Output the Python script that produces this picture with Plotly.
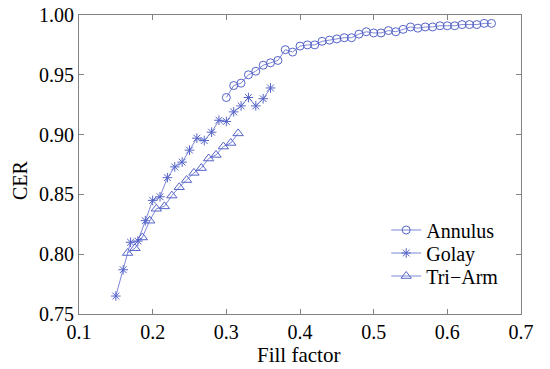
import plotly.graph_objects as go

annulus_x = [0.30, 0.31, 0.32, 0.33, 0.34, 0.35, 0.36, 0.37, 0.38, 0.39, 0.40, 0.41, 0.42,
             0.43, 0.44, 0.45, 0.46, 0.47, 0.48, 0.49, 0.50, 0.51, 0.52, 0.53, 0.54, 0.55,
             0.56, 0.57, 0.58, 0.59, 0.60, 0.61, 0.62, 0.63, 0.64, 0.65, 0.66]
annulus_y = [0.931, 0.941, 0.943, 0.950, 0.953, 0.958, 0.960, 0.962, 0.971, 0.969, 0.974, 0.975,
             0.975, 0.978, 0.979, 0.980, 0.981, 0.981, 0.984, 0.986, 0.985, 0.985, 0.987, 0.986,
             0.988, 0.990, 0.989, 0.990, 0.990, 0.991, 0.991, 0.991, 0.992, 0.992, 0.992, 0.993, 0.993]

golay_x = [0.15, 0.16, 0.17, 0.18, 0.19, 0.20, 0.21, 0.22, 0.23, 0.24, 0.25,
           0.26, 0.27, 0.28, 0.29, 0.30, 0.31, 0.32, 0.33, 0.34, 0.35, 0.36]
golay_y = [0.765, 0.787, 0.810, 0.811, 0.828, 0.845, 0.848, 0.864, 0.873, 0.877, 0.887,
           0.897, 0.895, 0.902, 0.912, 0.911, 0.919, 0.924, 0.931, 0.924, 0.930, 0.939]

triarm_x = [0.166, 0.176, 0.186, 0.196, 0.205, 0.216, 0.226, 0.236, 0.246, 0.256,
            0.266, 0.276, 0.286, 0.296, 0.306, 0.316]
triarm_y = [0.801, 0.805, 0.814, 0.828, 0.838, 0.840, 0.849, 0.856, 0.862, 0.868,
            0.872, 0.880, 0.883, 0.890, 0.893, 0.901]

x_ticks = [0.1, 0.2, 0.3, 0.4, 0.5, 0.6, 0.7]
y_ticks = [0.75, 0.80, 0.85, 0.90, 0.95, 1.00]

LINE = "rgb(125,135,215)"
MARK = "rgb(85,100,200)"
FONT = "Liberation Serif"

fig = go.Figure()
fig.add_trace(go.Scatter(x=annulus_x, y=annulus_y, name="Annulus", mode="lines+markers",
                         line=dict(color=LINE, width=1),
                         marker=dict(symbol="circle-open", size=8, color=MARK, line=dict(width=1, color=MARK)),
                         legend="legend"))
fig.add_trace(go.Scatter(x=golay_x, y=golay_y, name="Golay", mode="lines+markers",
                         line=dict(color=LINE, width=1),
                         marker=dict(symbol="asterisk-open", size=8, color=MARK, line=dict(width=1, color=MARK)),
                         legend="legend2"))
fig.add_trace(go.Scatter(x=triarm_x, y=triarm_y, name="Tri\u2212Arm", mode="lines+markers",
                         line=dict(color=LINE, width=1),
                         marker=dict(symbol="triangle-up-open", size=9, color=MARK, line=dict(width=1, color=MARK)),
                         legend="legend3"))

axis_common = dict(showline=True, linecolor="rgb(130,130,130)", linewidth=1, mirror="ticks",
                   ticks="inside", ticklen=5, tickcolor="rgb(130,130,130)", showgrid=False,
                   zeroline=False, automargin=False,
                   tickfont=dict(family=FONT, size=20, color="black"))

fig.update_xaxes(range=[0.1, 0.7], tickvals=x_ticks, ticktext=[str(v) for v in x_ticks], **axis_common)
fig.update_yaxes(range=[0.75, 1.0], tickvals=y_ticks, ticktext=[f"{v:.2f}" for v in y_ticks], **axis_common)

leg_common = dict(font=dict(family=FONT, size=20, color="black"), bgcolor="rgba(0,0,0,0)",
                  xanchor="left", yanchor="middle", x=0.695, itemwidth=30)
fig.update_layout(
    width=550, height=369,
    margin=dict(l=79, r=29, t=15, b=55, autoexpand=False),
    paper_bgcolor="white", plot_bgcolor="white",
    font=dict(family=FONT, size=20, color="black"),
    showlegend=True,
    legend=dict(y=(314 - 230) / 299, **leg_common),
    legend2=dict(y=(314 - 253) / 299, **leg_common),
    legend3=dict(y=(314 - 276) / 299, **leg_common),
    annotations=[
        dict(text="CER", x=(20 - 79) / 442, y=(314 - 180) / 299, xref="paper", yref="paper",
             textangle=-90, showarrow=False, xanchor="center", yanchor="middle",
             font=dict(family=FONT, size=20, color="black")),
        dict(text="Fill factor", x=(298 - 79) / 442, y=(314 - 355) / 299, xref="paper", yref="paper",
             showarrow=False, xanchor="center", yanchor="middle",
             font=dict(family=FONT, size=21, color="black")),
    ],
)

fig.write_html("out.html", config={"displayModeBar": False},
               post_script="document.body.style.margin='0px';")
